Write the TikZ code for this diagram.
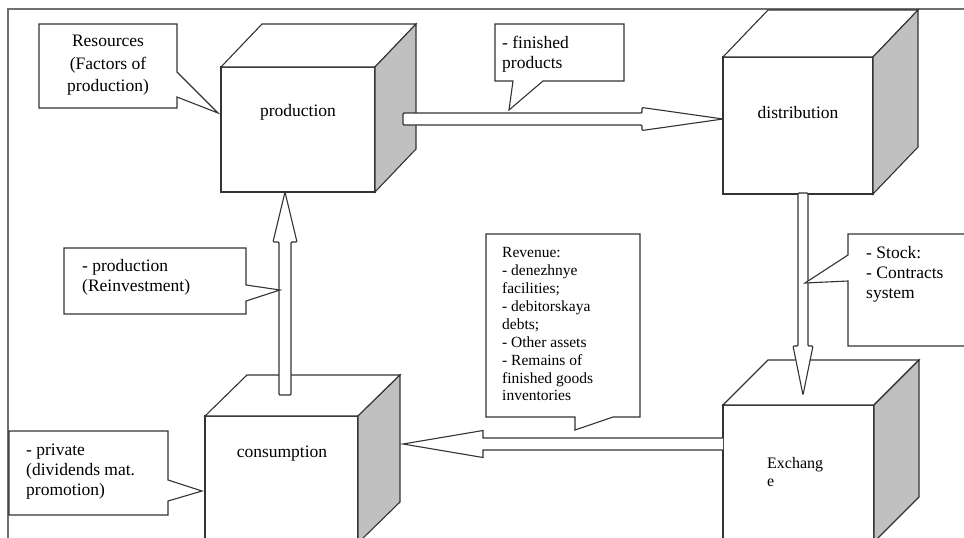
\documentclass[tikz,border=0pt]{standalone}
\usepackage{fontspec}
\setmainfont{Liberation Serif}
\usetikzlibrary{calc}
\definecolor{linec}{HTML}{333333}
\definecolor{facec}{HTML}{C0C0C0}
\definecolor{framec}{HTML}{707070}
\begin{document}
\begin{tikzpicture}[x=1pt,y=-1pt,
  ln/.style={draw=linec, line width=1.1pt, line join=miter},
  frontface/.style={ln, fill=white, rectangle, inner sep=0pt, outer sep=0pt},
  boxlabel/.style={inner sep=0pt, font=\fontsize{17.5}{20}\selectfont},
  ctext/.style={inner sep=0pt, anchor=north west, align=left, font=\fontsize{17.5}{20}\selectfont}
]
\useasboundingbox (0,0) rectangle (964,538);
\begin{scope}
\clip (0,0) rectangle (964,538);
\fill[white] (0,0) rectangle (964,538);
% frame
\draw[framec, line width=1.3pt] (964,9) -- (8,9) -- (8,545);

% ---- cubes ----
% production
\node[frontface, minimum width=154pt, minimum height=125pt] (prod) at (298,129.5) {};
\draw[ln, fill=white] (prod.north west) -- ++(41,-43) -- ++(154,0) -- (prod.north east) -- cycle;
\draw[ln, fill=facec] (prod.north east) -- ++(41,-43) -- ++(0,125) -- (prod.south east) -- cycle;
\node[boxlabel] (prodT) at (298,112) {production};
% distribution
\node[frontface, minimum width=150pt, minimum height=137pt] (dist) at (798,125.5) {};
\draw[ln, fill=white] (dist.north west) -- ++(45,-47) -- ++(150,0) -- (dist.north east) -- cycle;
\draw[ln, fill=facec] (dist.north east) -- ++(45,-47) -- ++(0,137) -- (dist.south east) -- cycle;
\node[boxlabel] (distT) at (798,113) {distribution};
% consumption
\node[frontface, minimum width=153pt, minimum height=127pt] (cons) at (281.5,479.5) {};
\draw[ln, fill=white] (cons.north west) -- ++(42,-41) -- ++(153,0) -- (cons.north east) -- cycle;
\draw[ln, fill=facec] (cons.north east) -- ++(42,-41) -- ++(0,127) -- (cons.south east) -- cycle;
\node[boxlabel] (consT) at (282,454) {consumption};
% exchange
\node[frontface, minimum width=151pt, minimum height=137pt] (exch) at (798.5,473.5) {};
\draw[ln, fill=white] (exch.north west) -- ++(45,-45) -- ++(151,0) -- (exch.north east) -- cycle;
\draw[ln, fill=facec] (exch.north east) -- ++(45,-45) -- ++(0,137) -- (exch.south east) -- cycle;
\node[ctext, font=\fontsize{16}{18}\selectfont] (exchT) at (767,455.4) {\strut Exchang\\e};

% ---- block arrows ----
% production -> distribution
\coordinate (a1s) at (403,119);
\coordinate (a1e) at (dist.west |- a1s);
\draw[ln, fill=white, rounded corners=1pt] ($(a1s)+(0,-6)$) -- ($(a1e)+(-81,-6)$) -- ($(a1e)+(-81,-11.5)$) -- (a1e) -- ($(a1e)+(-81,11.5)$) -- ($(a1e)+(-81,6)$) -- ($(a1s)+(0,6)$) -- cycle;
% consumption -> production
\coordinate (a2s) at (285,395);
\coordinate (a2e) at (prod.south -| a2s);
\draw[ln, fill=white, rounded corners=1pt] ($(a2s)+(-6,0)$) -- ($(a2e)+(-6,50)$) -- ($(a2e)+(-12,50)$) -- (a2e) -- ($(a2e)+(12,50)$) -- ($(a2e)+(6,50)$) -- ($(a2s)+(6,0)$) -- cycle;
% distribution -> exchange
\coordinate (a3s) at (803,193);
\coordinate (a3e) at (803,395);
\draw[ln, fill=white, rounded corners=1pt] ($(a3s)+(-5,0)$) -- ($(a3e)+(-5,-49)$) -- ($(a3e)+(-10,-49)$) -- (a3e) -- ($(a3e)+(10,-49)$) -- ($(a3e)+(5,-49)$) -- ($(a3s)+(5,0)$) -- cycle;
% exchange -> consumption
\coordinate (a4s) at (exch.west |- 0,444);
\coordinate (a4e) at (403,444);
\draw[ln, fill=white] ($(a4s)+(0,-6)$) -- ($(a4e)+(80,-6)$) -- ($(a4e)+(80,-13.5)$) -- (a4e) -- ($(a4e)+(80,13.5)$) -- ($(a4e)+(80,6)$) -- ($(a4s)+(0,6)$);

% ---- callouts ----
\draw[ln, fill=white] (39,24) -- (177,24) -- (177,72) -- (218,113) -- (177,97) -- (177,108) -- (39,108) -- cycle;
\node[ctext, anchor=north, align=center, font=\fontsize{17.5}{22.5}\selectfont] (resT) at (108,31) {\strut Resources\\(Factors of\\production)};

\draw[ln, fill=white] (495,24) -- (624,24) -- (624,81) -- (543,81) -- (509,110) -- (513,81) -- (495,81) -- cycle;
\node[ctext] (finT) at (502,34) {\strut - finished\\products};

\draw[ln, fill=white] (64,248) -- (246,248) -- (246,285) -- (280,290) -- (246,301) -- (246,314) -- (64,314) -- cycle;
\node[ctext] (reiT) at (82,257) {\strut - production\\(Reinvestment)};

\draw[ln, fill=white] (9,431) -- (168,431) -- (168,480) -- (202,491) -- (168,501) -- (168,515) -- (9,515) -- cycle;
\node[ctext] (priT) at (26,441) {\strut - private\\(dividends mat.\\promotion)};

\draw[ln, fill=white] (486,234) -- (640,234) -- (640,417) -- (613,417) -- (575,430) -- (575,417) -- (486,417) -- cycle;
\node[ctext, font=\fontsize{15.5}{17.9}\selectfont] (revT) at (502,245) {\strut Revenue:\\- denezhnye\\facilities;\\- debitorskaya\\debts;\\- Other assets\\- Remains of\\finished goods\\inventories};

\draw[ln, fill=white] (848,234) -- (975,234) -- (975,346) -- (848,346) -- (848,281) -- (805,283) -- (848,255) -- cycle;
\node[ctext] (stoT) at (866,244) {\strut - Stock:\\- Contracts\\system};
\end{scope}
\end{tikzpicture}
\end{document}
